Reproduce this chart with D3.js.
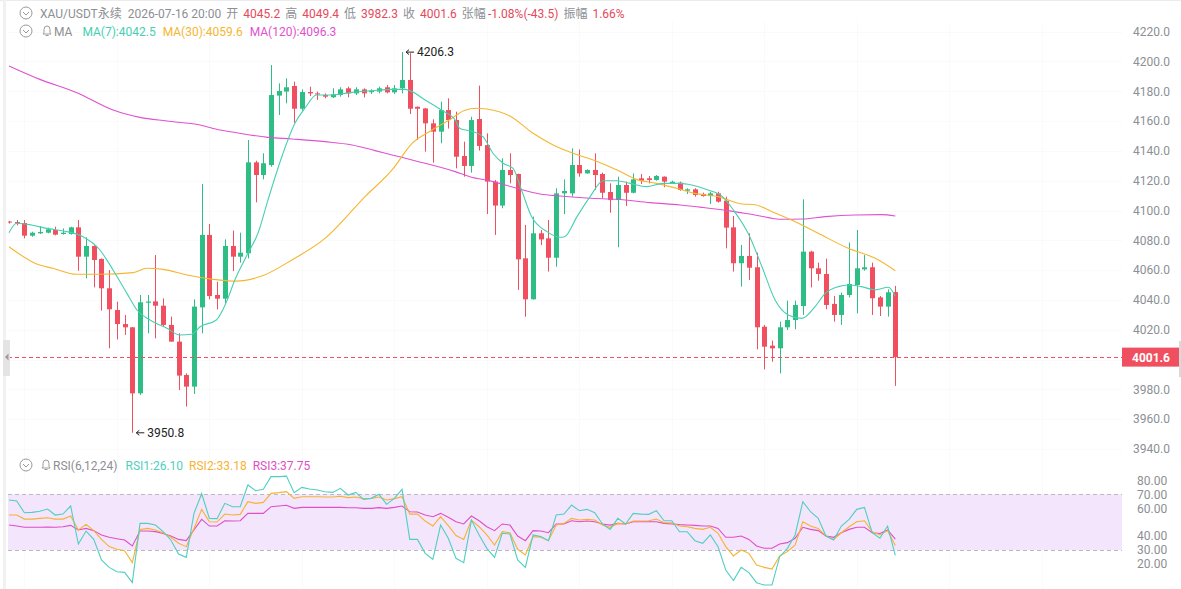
<!DOCTYPE html>
<html>
<head>
<meta charset="utf-8">
<script src="https://cdn.jsdelivr.net/npm/d3@7"></script>
<style>
  body { margin: 0; background: #fff; }
  .chart { width: 1181px; height: 589px; }
  text { font-family: Roboto, "Noto Sans CJK SC", sans-serif; }
</style>
</head>
<body>
<div class="chart"></div>
<script>
// header
const symbolTitle = 'XAU/USDT永续';
const barTime = '2026-07-16 20:00';
const ohlcLabels = ['开', '高', '低', '收', '张幅', '振幅'];
const ohlcValues = ['4045.2', '4049.4', '3982.3', '4001.6', '-1.08%(-43.5)', '1.66%'];
const maLegend = ['MA(7):4042.5', 'MA(30):4059.6', 'MA(120):4096.3'];
const rsiLegend = ['RSI1:26.10', 'RSI2:33.18', 'RSI3:37.75'];

// candles, one per bar (4h)
const opens = [4092.6,4092.2,4091.6,4083.1,4084.7,4085.1,4086.9,4084.2,4084.2,4088.7,
  4069.0,4076.2,4067.5,4047.8,4033.2,4023.8,4021.6,3977.3,4038.1,4039.0,
  4036.1,4023.2,4012.0,3989.6,3981.8,4035.0,4083.6,4043.3,4040.8,4076.2,
  4069.0,4071.3,4132.3,4123.8,4130.5,4177.1,4179.8,4183.6,4168.3,4179.5,
  4178.6,4177.5,4176.0,4177.5,4182.0,4178.6,4181.3,4179.4,4179.8,4182.7,
  4179.3,4182.0,4187.6,4169.6,4168.5,4158.5,4152.9,4167.4,4160.7,4136.6,
  4129.9,4161.4,4143.9,4119.4,4103.3,4127.2,4124.5,4067.9,4040.4,4084.7,
  4081.3,4068.3,4111.5,4111.5,4130.5,4124.9,4127.2,4124.5,4112.4,4107.0,
  4117.1,4111.9,4121.6,4121.6,4120.5,4122.7,4118.2,4118.7,4113.3,4114.2,
  4111.1,4109.7,4111.5,4106.6,4088.7,4064.6,4069.5,4061.9,4022.0,4009.3,
  4007.5,4021.6,4026.5,4035.9,4072.4,4061.2,4057.4,4037.3,4029.9,4043.3,
  4050.0,4060.5,4061.9,4041.7,4035.5,4045.2];
const highs = [4093.0,4093.6,4093.6,4085.8,4089.6,4088.5,4089.1,4088.0,4089.1,4093.6,
  4082.0,4076.6,4067.8,4060.0,4038.8,4029.9,4021.8,4043.3,4043.3,4070.1,
  4041.0,4028.8,4017.6,3990.7,4040.4,4117.8,4090.9,4052.2,4080.6,4086.5,
  4085.1,4147.3,4133.4,4138.4,4197.6,4185.3,4188.7,4186.5,4181.3,4183.1,
  4179.8,4178.6,4182.0,4182.7,4183.1,4182.7,4182.0,4181.3,4183.1,4184.2,
  4184.2,4206.3,4205.6,4169.8,4168.7,4161.2,4173.0,4175.3,4166.3,4146.2,
  4162.9,4183.8,4151.8,4120.5,4135.0,4138.4,4124.7,4090.3,4095.9,4086.9,
  4093.6,4114.9,4120.9,4141.7,4141.0,4127.6,4138.4,4125.4,4118.2,4122.7,
  4119.4,4124.9,4124.5,4123.1,4123.8,4122.9,4120.0,4119.4,4114.9,4114.9,
  4112.0,4112.6,4112.6,4109.3,4096.3,4076.9,4084.7,4071.7,4023.2,4012.7,
  4025.4,4039.5,4039.5,4107.5,4073.0,4065.0,4067.7,4042.6,4044.9,4078.4,
  4086.9,4070.1,4065.0,4042.6,4047.1,4049.4];
const lows = [4091.2,4090.0,4081.3,4082.4,4084.2,4084.7,4083.3,4083.8,4083.8,4059.6,
  4054.5,4048.4,4032.8,4007.5,4013.5,4016.5,3950.8,3976.2,4017.6,4014.2,
  4022.5,4012.0,3979.5,3968.4,3976.9,4017.6,4040.4,4033.7,4037.7,4059.4,
  4065.0,4067.9,4105.5,4120.9,4129.4,4164.1,4171.9,4158.9,4167.0,4176.8,
  4174.2,4175.3,4175.5,4176.4,4176.0,4177.5,4175.9,4178.2,4178.6,4178.6,
  4178.2,4178.6,4164.8,4147.3,4139.5,4132.1,4145.1,4155.0,4128.3,4122.7,
  4125.4,4140.2,4097.6,4083.6,4101.5,4118.2,4046.7,4028.7,4040.2,4076.8,
  4059.0,4062.3,4097.6,4109.3,4122.7,4124.7,4113.8,4108.2,4098.5,4075.3,
  4103.0,4111.5,4117.8,4118.2,4120.0,4115.6,4117.8,4113.3,4111.1,4109.3,
  4109.3,4104.4,4105.3,4074.6,4059.0,4048.9,4053.4,4006.8,3993.4,3998.5,
  3990.7,4019.8,4020.3,4029.9,4048.4,4052.9,4033.7,4025.4,4023.2,4041.7,
  4031.0,4059.6,4029.9,4029.2,4028.8,3982.3];
const closes = [4092.0,4091.2,4083.1,4085.1,4085.6,4087.4,4083.8,4085.1,4088.7,4069.0,
  4076.2,4066.8,4047.8,4033.7,4023.8,4021.6,3977.3,4038.4,4038.9,4036.1,
  4023.2,4012.0,3989.2,3981.8,4035.5,4083.6,4042.6,4040.8,4076.2,4069.0,
  4071.7,4132.3,4123.8,4131.7,4177.5,4180.2,4182.7,4168.3,4179.5,4178.6,
  4177.9,4176.4,4178.0,4181.3,4178.6,4181.3,4178.6,4180.4,4182.0,4179.3,
  4182.0,4187.6,4168.3,4168.3,4158.5,4152.9,4167.4,4160.7,4136.1,4129.9,
  4160.7,4143.3,4119.4,4103.3,4127.2,4123.8,4067.2,4040.4,4084.7,4080.6,
  4068.3,4111.5,4113.1,4130.5,4124.9,4127.2,4123.8,4111.9,4107.0,4117.1,
  4111.9,4120.9,4120.0,4120.5,4123.2,4119.4,4119.3,4113.8,4114.2,4110.4,
  4109.7,4111.5,4105.9,4088.5,4064.6,4069.5,4061.6,4021.6,4008.6,4007.5,
  4021.6,4026.5,4036.6,4072.4,4061.2,4057.4,4036.6,4029.9,4043.3,4050.7,
  4061.2,4061.9,4041.1,4035.5,4045.1,4001.6];

// moving averages: [bar index, value]
const ma7 = [[0,4085.1],[1,4091.4],[2.9,4090.3],[4.9,4088.0],[7.5,4085.8],[9.6,4082.4],
  [11.8,4073.5],[13.5,4060.1],[15.3,4044.4],[16.6,4033.2],[18.3,4026.5],[20.5,4020.9],
  [22.2,4016.4],[23.7,4016.9],[24.8,4022.0],[26.9,4026.5],[28.2,4038.5],[29.3,4053.4],
  [31,4071.3],[32.3,4084.7],[33.6,4107.0],[35.4,4136.1],[37.1,4158.5],[38.4,4168.6],
  [39.9,4177.5],[41.9,4177.5],[44.5,4179.3],[47.1,4180.4],[49.7,4181.3],[51.4,4181.3],
  [54,4174.2],[56.1,4167.4],[57.9,4160.7],[58.5,4155.1],[60.2,4152.9],[61.5,4149.6],
  [62.8,4138.4],[64.1,4131.7],[65.4,4128.3],[66.5,4113.8],[67.8,4095.9],[69.8,4085.8],
  [71.5,4082.0],[72.1,4082.4],[73.7,4095.9],[75.4,4109.3],[77.1,4120.0],[78.9,4120.0],
  [80.6,4118.2],[82.7,4116.0],[84.9,4118.2],[87.1,4118.2],[88.6,4117.1],[90.7,4113.8],
  [92.5,4109.7],[94,4100.3],[95.9,4084.7],[97.7,4062.3],[99.4,4039.9],[101.1,4029.9],
  [102.9,4027.6],[104.6,4035.5],[105.9,4044.4],[107.6,4048.9],[108.9,4050.0],
  [110.6,4048.9],[112.4,4046.7],[114.1,4048.5],[115,4042.5]];
const ma30 = [[0,4075.7],[3.6,4064.1],[5.7,4061.2],[8.8,4057.2],[11.8,4057.2],[16.1,4058.3],
  [17.9,4061.2],[20,4060.5],[23.1,4056.7],[26.5,4053.8],[29.4,4052.6],[32.8,4056.0],
  [36.7,4066.8],[41,4081.3],[46.2,4109.3],[49.7,4127.2],[52.3,4145.1],[54.9,4154.0],
  [57.5,4161.9],[59,4167.0],[60.7,4168.6],[62,4168.1],[65,4163.4],[68,4151.8],
  [70.6,4144.0],[73.2,4138.4],[75.8,4133.9],[78.9,4127.2],[81.4,4120.9],[84,4118.2],
  [87.1,4114.2],[89,4111.5],[92,4109.3],[95.1,4104.4],[96.8,4103.9],[99,4099.2],
  [102,4092.5],[105,4084.7],[108.9,4074.6],[112.4,4067.9],[115,4059.6]];
const ma120 = [[0,4197.0],[4,4188.0],[8.8,4179.1],[13.5,4167.4],[17,4162.5],[20.5,4160.1],
  [24.8,4157.4],[27.4,4154.0],[28.7,4152.9],[33.6,4149.1],[36.7,4148.0],[41,4146.2],
  [44.5,4144.0],[47.5,4140.2],[49.7,4137.3],[52.3,4133.9],[57.9,4126.1],[59.8,4122.7],
  [62.8,4119.4],[65.9,4114.9],[68.9,4111.1],[71.5,4109.7],[75.4,4108.2],[78.9,4107.5],
  [83.2,4105.3],[87.1,4103.7],[89.9,4102.1],[93.3,4099.9],[96.8,4097.0],[100.3,4094.1],
  [102.9,4094.3],[105.9,4095.9],[109.8,4097.0],[113.2,4097.2],[115,4096.3]];

// RSI(6,12,24), one value per bar
const rsi1 = [65.9,65.2,56.8,57.0,57.8,59.4,55.1,55.8,61.6,34.3,
  43.6,37.6,22.8,17.5,14.4,13.9,6.5,49.1,49.1,47.9,
  43.2,37.2,27.1,24.7,56.3,70.4,52.7,52.5,63.5,61.1,
  61.1,76.7,72.6,73.6,82.7,82.7,83.1,71.2,75.0,73.8,
  73.1,71.9,71.4,74.3,69.5,71.4,66.4,67.1,70.0,62.8,
  67.1,73.6,37.6,37.6,27.6,23.3,47.9,38.4,24.0,20.9,
  51.5,40.8,31.2,24.7,42.0,41.5,22.8,17.5,40.8,39.6,
  36.7,55.1,55.8,62.3,58.2,59.2,56.8,48.7,44.8,52.7,
  48.7,56.3,55.8,55.6,58.2,51.0,51.0,43.1,43.1,36.7,
  34.8,40.8,32.4,15.6,8.0,17.5,13.7,6.5,4.8,4.8,
  25.2,31.2,40.8,64.7,57.5,52.7,40.0,37.2,47.2,52.0,
  59.2,60.6,42.4,38.4,47.2,26.1];
const rsi2 = [55.1,55.1,52.2,52.2,52.7,53.2,52.2,52.2,54.4,44.4,
  48.4,43.9,37.6,32.4,30.5,29.5,20.9,44.8,45.5,44.4,
  42.4,39.1,34.8,32.4,45.5,59.2,50.3,50.1,55.8,55.1,
  55.6,64.7,63.5,64.2,70.7,71.2,71.9,67.1,68.3,68.3,
  68.3,68.1,68.1,68.6,67.6,68.1,66.9,67.1,68.1,65.9,
  66.9,68.3,55.8,55.8,50.8,47.2,53.9,47.5,40.4,37.6,
  51.5,46.7,40.8,33.6,43.2,42.4,30.5,26.4,39.6,39.1,
  36.7,48.0,49.1,52.7,51.5,52.0,51.5,47.9,46.3,49.1,
  48.7,50.8,50.8,51.0,52.2,49.6,49.6,47.2,46.7,45.5,
  44.8,46.3,42.0,32.4,25.7,30.0,27.6,19.2,17.5,16.3,
  25.7,28.8,33.6,50.3,47.2,45.5,40.0,37.6,42.4,46.7,
  50.3,51.0,43.1,40.8,43.9,33.2];
const rsi3 = [47.9,47.2,46.3,46.3,46.3,46.5,46.3,46.7,47.7,44.4,
  45.5,43.9,40.8,39.1,38.1,37.2,32.9,43.6,43.6,43.2,
  41.9,40.0,37.6,36.7,44.4,52.0,47.2,47.2,51.0,50.8,
  51.0,56.3,56.3,56.3,61.1,61.6,62.1,59.9,60.6,60.6,
  60.6,60.6,60.6,60.6,60.4,60.4,59.9,59.9,60.4,59.9,
  60.6,61.6,57.5,57.3,55.1,53.9,56.3,53.5,50.3,48.7,
  54.4,51.0,46.7,43.9,48.7,47.9,40.0,36.7,43.9,43.6,
  42.4,48.7,48.7,51.0,50.3,50.8,50.3,48.7,47.9,49.1,
  48.7,50.3,50.3,50.3,50.3,49.1,48.7,48.2,47.9,47.7,
  47.2,47.2,45.5,39.1,39.1,40.0,37.6,32.9,31.2,31.2,
  34.3,35.3,38.4,46.3,44.8,43.9,40.0,39.1,42.4,44.8,
  46.3,46.3,42.4,41.9,44.4,37.75];

const priceTicks = d3.range(3940, 4221, 20);
const rsiTicks = [20, 30, 40, 60, 70, 80];
const rsiBand = [30, 70];
const lastPrice = 4001.6;

const colors = {
  up: '#2ebd85',
  down: '#ef4f5e',
  ma7: '#47cfb2',
  ma30: '#f5b630',
  ma120: '#e052cf',
  rsi1: '#4fcfc0',
  rsi2: '#f6b232',
  rsi3: '#e04fc4',
  label: '#8c8f94',
  value: '#e6495a'
};

const svg = d3.select('.chart')
  .append('svg')
  .attr('width', 1181)
  .attr('height', 589);

const plot = { left: 8, right: 1122 };

const xScale = d3.scaleLinear()
  .domain([0, closes.length - 1])
  .range([9, 895.3]);

const yScale = d3.scaleLinear()
  .domain([3940, 4220])
  .range([448.9, 31.7]);

const rsiScale = d3.scaleLinear()
  .domain([20, 80])
  .range([563.9, 480.4]);

// frame bits
svg.append('line')
  .attr('x1', 0).attr('x2', 1181).attr('y1', 0.5).attr('y2', 0.5)
  .style('stroke', '#ececec');
svg.append('rect')
  .attr('x', 3).attr('y', 0).attr('width', 3).attr('height', 589)
  .style('fill', '#f1f1f1');

// very faint grid
const gridG = svg.append('g').style('stroke', '#fafafa');
gridG.selectAll('.hgrid')
  .data(priceTicks)
  .enter()
  .append('line')
  .attr('x1', plot.left).attr('x2', plot.right)
  .attr('y1', d => Math.round(yScale(d)) + 0.5)
  .attr('y2', d => Math.round(yScale(d)) + 0.5);
gridG.selectAll('.vgrid')
  .data(d3.range(2, 140, 12))
  .enter()
  .append('line')
  .attr('x1', d => Math.round(xScale(d)) + 0.5)
  .attr('x2', d => Math.round(xScale(d)) + 0.5)
  .attr('y1', 22).attr('y2', 589);

// clip for the price pane
svg.append('clipPath')
  .attr('id', 'pane')
  .append('rect')
  .attr('x', plot.left).attr('y', 20)
  .attr('width', plot.right - plot.left).attr('height', 432);

const mainG = svg.append('g').attr('clip-path', 'url(#pane)');

// candles
const bars = closes.map((c, i) => ({ i, o: opens[i], h: highs[i], l: lows[i], c }));

const candle = mainG.selectAll('.candle')
  .data(bars)
  .enter()
  .append('g')
  .classed('candle', true)
  .style('fill', d => d.c >= d.o ? colors.up : colors.down)
  .style('stroke', d => d.c >= d.o ? colors.up : colors.down);

candle.append('line')
  .attr('x1', d => Math.round(xScale(d.i)) + 0.5)
  .attr('x2', d => Math.round(xScale(d.i)) + 0.5)
  .attr('y1', d => yScale(d.h))
  .attr('y2', d => yScale(d.l))
  .style('stroke-width', 1);

candle.append('rect')
  .attr('x', d => Math.round(xScale(d.i)) - 2)
  .attr('y', d => yScale(Math.max(d.o, d.c)))
  .attr('width', 5)
  .attr('height', d => Math.max(1, Math.abs(yScale(d.o) - yScale(d.c))))
  .style('stroke', 'none');

// moving averages
const maLine = d3.line()
  .x(d => xScale(d[0]))
  .y(d => yScale(d[1]))
  .curve(d3.curveMonotoneX);

[[ma120, colors.ma120], [ma30, colors.ma30], [ma7, colors.ma7]].forEach(([pts, col]) => {
  mainG.append('path')
    .attr('d', maLine(pts))
    .style('fill', 'none')
    .style('stroke', col)
    .style('stroke-width', 1.1);
});

// high / low markers
function marker(i, v) {
  const x0 = xScale(i) + 4;
  const y0 = yScale(v);
  const g = svg.append('g');
  g.append('path')
    .attr('d', `M${x0 + 8},${y0} L${x0},${y0} M${x0 + 3},${y0 - 2.5} L${x0},${y0} L${x0 + 3},${y0 + 2.5}`)
    .style('fill', 'none')
    .style('stroke', '#222')
    .style('stroke-width', 1);
  g.append('text')
    .attr('x', x0 + 11)
    .attr('y', y0 + 4)
    .style('font-size', '12px')
    .style('fill', '#222')
    .text(v.toFixed(1));
}
const hiIdx = d3.maxIndex(highs);
const loIdx = d3.minIndex(lows);
marker(hiIdx, highs[hiIdx]);
marker(loIdx, lows[loIdx]);

// last price line
svg.append('line')
  .attr('x1', plot.left).attr('x2', plot.right)
  .attr('y1', Math.round(yScale(lastPrice)) + 0.5)
  .attr('y2', Math.round(yScale(lastPrice)) + 0.5)
  .style('stroke', colors.down)
  .style('stroke-width', 1)
  .style('stroke-dasharray', '4,3');

// price axis
const priceAxis = d3.axisRight(yScale)
  .tickValues(priceTicks)
  .tickFormat(d3.format('.1f'))
  .tickSize(0)
  .tickPadding(2);

const priceAxisG = svg.append('g')
  .attr('transform', 'translate(1131, 0)')
  .call(priceAxis);
priceAxisG.select('.domain').remove();
priceAxisG.selectAll('text')
  .style('font-size', '12px')
  .style('fill', colors.label)
  .style('font-family', 'Roboto, sans-serif');

// last price tag
const tagY = yScale(lastPrice);
svg.append('rect')
  .attr('x', 1122).attr('y', tagY - 9.5)
  .attr('width', 58).attr('height', 19)
  .style('fill', colors.down);
svg.append('text')
  .attr('x', 1151).attr('y', tagY + 4.5)
  .attr('text-anchor', 'middle')
  .style('font-size', '12px')
  .style('font-weight', 'bold')
  .style('fill', '#fff')
  .text(lastPrice.toFixed(1));
svg.append('rect')
  .attr('x', 1179).attr('y', tagY - 16)
  .attr('width', 2).attr('height', 36)
  .style('fill', '#d9d9d9');

// left handle
svg.append('rect')
  .attr('x', 3).attr('y', tagY - 17)
  .attr('width', 7).attr('height', 36)
  .attr('rx', 1)
  .style('fill', '#e4e4e4');
svg.append('path')
  .attr('d', `M5,${tagY} L8.5,${tagY - 3.5} L8.5,${tagY + 3.5} Z`)
  .style('fill', '#9a9a9a');

// RSI pane
const rsiG = svg.append('g');

rsiG.append('rect')
  .attr('x', plot.left)
  .attr('y', rsiScale(rsiBand[1]))
  .attr('width', plot.right - plot.left)
  .attr('height', rsiScale(rsiBand[0]) - rsiScale(rsiBand[1]))
  .style('fill', '#f3e5fc');

rsiG.selectAll('.band-line')
  .data(rsiBand)
  .enter()
  .append('line')
  .attr('x1', plot.left).attr('x2', plot.right)
  .attr('y1', d => Math.round(rsiScale(d)) + 0.5)
  .attr('y2', d => Math.round(rsiScale(d)) + 0.5)
  .style('stroke', '#b9b9c0')
  .style('stroke-dasharray', '4,3');

const rsiLine = d3.line()
  .x((d, i) => xScale(i))
  .y(d => rsiScale(d));

[[rsi3, colors.rsi3], [rsi2, colors.rsi2], [rsi1, colors.rsi1]].forEach(([vals, col]) => {
  rsiG.append('path')
    .attr('d', rsiLine(vals))
    .style('fill', 'none')
    .style('stroke', col)
    .style('stroke-width', 1.1);
});

const rsiAxis = d3.axisRight(rsiScale)
  .tickValues(rsiTicks)
  .tickFormat(d3.format('.2f'))
  .tickSize(0)
  .tickPadding(2);

const rsiAxisG = svg.append('g')
  .attr('transform', 'translate(1135, 0)')
  .call(rsiAxis);
rsiAxisG.select('.domain').remove();
rsiAxisG.selectAll('text')
  .style('font-size', '12px')
  .style('fill', colors.label)
  .style('font-family', 'Roboto, sans-serif');

// header rows
function circleIcon(cx, cy) {
  svg.append('circle')
    .attr('cx', cx).attr('cy', cy).attr('r', 6)
    .style('fill', 'none')
    .style('stroke', '#9a9a9a');
  svg.append('path')
    .attr('d', `M${cx - 3},${cy - 1} L${cx},${cy + 2} L${cx + 3},${cy - 1}`)
    .style('fill', 'none')
    .style('stroke', '#9a9a9a');
}

function bellIcon(cx, cy) {
  svg.append('path')
    .attr('d', `M${cx - 4},${cy + 3} L${cx - 3},${cy + 1.5} L${cx - 3},${cy - 1.5} Q${cx - 3},${cy - 5} ${cx},${cy - 5} Q${cx + 3},${cy - 5} ${cx + 3},${cy - 1.5} L${cx + 3},${cy + 1.5} L${cx + 4},${cy + 3} Z M${cx - 1.5},${cy + 4.5} L${cx + 1.5},${cy + 4.5}`)
    .style('fill', 'none')
    .style('stroke', '#9a9a9a');
}

circleIcon(26, 13);
const head1 = svg.append('text')
  .attr('x', 40).attr('y', 17.5)
  .style('font-size', '12px');
head1.append('tspan').style('fill', colors.label).text(symbolTitle);
head1.append('tspan').attr('dx', 6).style('fill', colors.label).text(barTime);
ohlcLabels.forEach((lab, k) => {
  head1.append('tspan').attr('dx', 5).style('fill', colors.label).text(lab);
  head1.append('tspan').attr('dx', k === 4 ? 2 : 5).style('fill', colors.value).text(ohlcValues[k]);
});

circleIcon(26, 31);
bellIcon(47, 31);
const head2 = svg.append('text')
  .attr('x', 54).attr('y', 35.5)
  .style('font-size', '12px');
head2.append('tspan').style('fill', colors.label).text('MA');
[colors.ma7, colors.ma30, colors.ma120].forEach((col, k) => {
  head2.append('tspan').attr('dx', k === 0 ? 10 : 7).style('fill', col).text(maLegend[k]);
});

circleIcon(26, 465);
bellIcon(46, 465);
const head3 = svg.append('text')
  .attr('x', 53).attr('y', 469.5)
  .style('font-size', '12px');
head3.append('tspan').style('fill', colors.label).text('RSI(6,12,24)');
[colors.rsi1, colors.rsi2, colors.rsi3].forEach((col, k) => {
  head3.append('tspan').attr('dx', k === 0 ? 8 : 6).style('fill', col).text(rsiLegend[k]);
});
</script>
</body>
</html>
